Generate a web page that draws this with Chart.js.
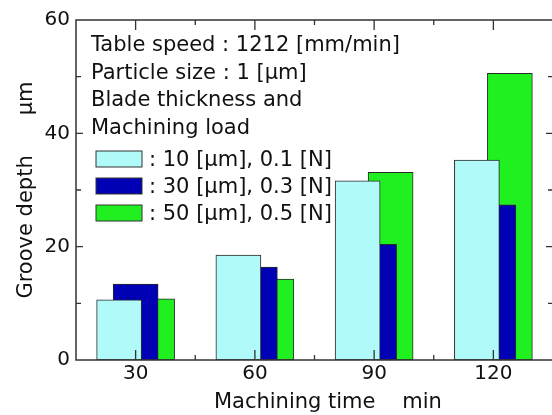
<!DOCTYPE html>
<html>
<head>
<meta charset="utf-8">
<script src="https://cdn.jsdelivr.net/npm/chart.js@4"></script>
<style>
  html, body { margin: 0; padding: 0; background: #fff; overflow: hidden; }
</style>
</head>
<body>
<canvas id="grooveChart" width="556" height="415"></canvas>
<script>
// machining time (min) and groove depth (um)
const times = [30, 60, 90, 120];
const depth10 = [10.6, 18.5, 31.6, 35.3];
const depth30 = [13.4, 16.4, 20.4, 27.4];
const depth50 = [10.8, 14.3, 33.1, 50.6];
const seriesLabels = ['10 [μm], 0.1 [N]', '30 [μm], 0.3 [N]', '50 [μm], 0.5 [N]'];
const noteLines = ['Table speed : 1212 [mm/min]', 'Particle size : 1 [μm]', 'Blade thickness and', 'Machining load'];
const yMajor = [0, 20, 40, 60];
const xMajor = [30, 60, 90, 120];

const FONT = '"DejaVu Sans", sans-serif';
const shift = 4.15; // bar offset inside a group, in minutes

function pts(vals) {
    return times.map((t, i) => ({ x: t, y: vals[i] }));
}

function hiddenX(delta) {
    return { type: 'linear', display: false, offset: false, min: 15 + delta, max: 135 + delta };
}

const frameAndNotes = {
    id: 'frameAndNotes',
    afterDatasetsDraw(chart) {
        const { ctx, chartArea: a, scales } = chart;
        const x = scales.x, y = scales.y;
        ctx.save();
        ctx.strokeStyle = '#333';
        ctx.lineWidth = 1.5;
        ctx.strokeRect(a.left, a.top, a.right - a.left, a.bottom - a.top);

        // inward ticks on all four sides
        ctx.lineWidth = 1.3;
        ctx.beginPath();
        for (let v = 10; v < 60; v += 10) {
            const py = y.getPixelForValue(v);
            const len = yMajor.includes(v) ? 7 : 5;
            ctx.moveTo(a.left, py); ctx.lineTo(a.left + len, py);
            ctx.moveTo(a.right, py); ctx.lineTo(a.right - len, py);
        }
        for (let v = 30; v < 135; v += 15) {
            const px = x.getPixelForValue(v);
            const len = xMajor.includes(v) ? 10 : 5;
            ctx.moveTo(px, a.bottom); ctx.lineTo(px, a.bottom - len);
            ctx.moveTo(px, a.top); ctx.lineTo(px, a.top + len);
        }
        ctx.stroke();

        // notes
        ctx.fillStyle = '#111';
        ctx.font = '21px ' + FONT;
        ctx.textBaseline = 'alphabetic';
        noteLines.forEach((s, i) => ctx.fillText(s, a.left + 15, a.top + 31 + i * 27.5));

        // legend
        chart.data.datasets.forEach((ds, i) => {
            const top = a.top + 131 + i * 27;
            ctx.fillStyle = ds.backgroundColor;
            ctx.fillRect(a.left + 20, top, 46, 16);
            ctx.lineWidth = 1;
            ctx.strokeStyle = '#333';
            ctx.strokeRect(a.left + 20, top, 46, 16);
            ctx.fillStyle = '#111';
            ctx.fillText(': ' + ds.label, a.left + 73, top + 15);
        });
        ctx.restore();
    }
};

new Chart(document.getElementById('grooveChart'), {
    type: 'bar',
    data: {
        datasets: [
            { label: seriesLabels[0], data: pts(depth10), xAxisID: 'xc', backgroundColor: '#b0fafa' },
            { label: seriesLabels[1], data: pts(depth30), xAxisID: 'x', backgroundColor: '#0000b4' },
            { label: seriesLabels[2], data: pts(depth50), xAxisID: 'xg', backgroundColor: '#20f020' }
        ]
    },
    options: {
        responsive: false,
        animation: false,
        layout: { padding: { top: 20, right: 3, left: 0, bottom: 0 } },
        datasets: {
            bar: { barThickness: 45, borderWidth: 1, borderColor: '#2a2a2a', borderSkipped: false, grouped: false }
        },
        plugins: { legend: { display: false }, tooltip: { enabled: false } },
        scales: {
            x: {
                type: 'linear', min: 15, max: 135, offset: false,
                grid: { display: false, drawTicks: false },
                border: { display: false },
                afterFit: s => { s.height = 55; },
                ticks: {
                    stepSize: 15, autoSkip: false, maxRotation: 0, padding: 2,
                    color: '#111', font: { family: FONT, size: 20 },
                    callback: v => xMajor.includes(v) ? String(v) : ''
                },
                title: {
                    display: true, text: '    Machining time    min', color: '#111',
                    font: { family: FONT, size: 21 }, padding: { top: 0, bottom: 0 }
                }
            },
            xc: hiddenX(shift),
            xg: hiddenX(-shift),
            y: {
                min: 0, max: 60,
                grid: { display: false, drawTicks: false },
                border: { display: false },
                afterFit: s => { s.width = 76; },
                ticks: {
                    stepSize: 10, autoSkip: false, padding: 6,
                    color: '#111', font: { family: FONT, size: 20 },
                    callback: v => yMajor.includes(v) ? String(v) : ''
                },
                title: {
                    display: true, text: 'Groove depth      μm', color: '#111',
                    font: { family: FONT, size: 21 }, padding: { top: 14, bottom: 0 }
                }
            }
        }
    },
    plugins: [frameAndNotes]
});
</script>
</body>
</html>
